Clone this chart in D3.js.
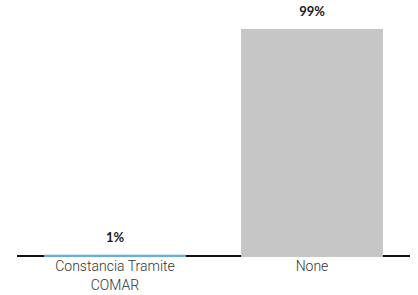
<!DOCTYPE html>
<html>
<head>
<meta charset="utf-8">
<script src="https://cdn.jsdelivr.net/npm/d3@7"></script>
<style>
	body{margin:0;background:#fff;}
	text{font-family:Roboto, "Noto Sans", sans-serif;}
</style>
</head>
<body>
<div id="chart"></div>
<script>
const categories = [["Constancia Tramite", "COMAR"], ["None"]];
const values = [1, 99];
const valueLabels = ["1%", "99%"];
const colors = ["#6aaede", "#c6c6c6"];

const width = 418, height = 295;
const baseline = 257, top100 = 26.7;

let svg = d3.select("#chart")
	.append("svg")
	.attr("width", width)
	.attr("height", height);

let x = d3.scaleBand()
	.domain(d3.range(categories.length))
	.range([17, 410])
	.paddingInner(0.28)
	.paddingOuter(0.1375);

let y = d3.scaleLinear()
	.domain([0, 100])
	.range([baseline, top100]);

// axis line
svg.append("line")
	.attr("x1", 17)
	.attr("x2", 410)
	.attr("y1", 256)
	.attr("y2", 256)
	.attr("stroke", "#111")
	.attr("stroke-width", 2);

svg.selectAll("rect.bar")
	.data(values)
	.enter().append("rect")
	.attr("class", "bar")
	.attr("x", function(d, i){ return x(i); })
	.attr("y", function(d){ return y(d); })
	.attr("width", x.bandwidth())
	.attr("height", function(d){ return baseline - y(d); })
	.attr("fill", function(d, i){ return colors[i]; });

svg.selectAll("text.value")
	.data(values)
	.enter().append("text")
	.attr("class", "value")
	.attr("x", function(d, i){ return x(i) + x.bandwidth()/2; })
	.attr("y", function(d){ return y(d) - 12.7; })
	.attr("text-anchor", "middle")
	.attr("font-size", 13)
	.attr("font-weight", "bold")
	.style("font-family", "Lato, sans-serif")
	.attr("fill", "#1a1a1a")
	.text(function(d, i){ return valueLabels[i]; });

let labels = svg.selectAll("text.cat")
	.data(categories)
	.enter().append("text")
	.attr("class", "cat")
	.attr("text-anchor", "middle")
	.attr("font-size", 14)
	.attr("font-weight", 300)
	.attr("fill", "#333");

labels.selectAll("tspan")
	.data(function(d, i){ return d.map(function(t){ return {t: t, i: i}; }); })
	.enter().append("tspan")
	.attr("x", function(d){ return x(d.i) + x.bandwidth()/2; })
	.attr("y", function(d, j){ return 271 + j*18.5; })
	.text(function(d){ return d.t; });
</script>
</body>
</html>
